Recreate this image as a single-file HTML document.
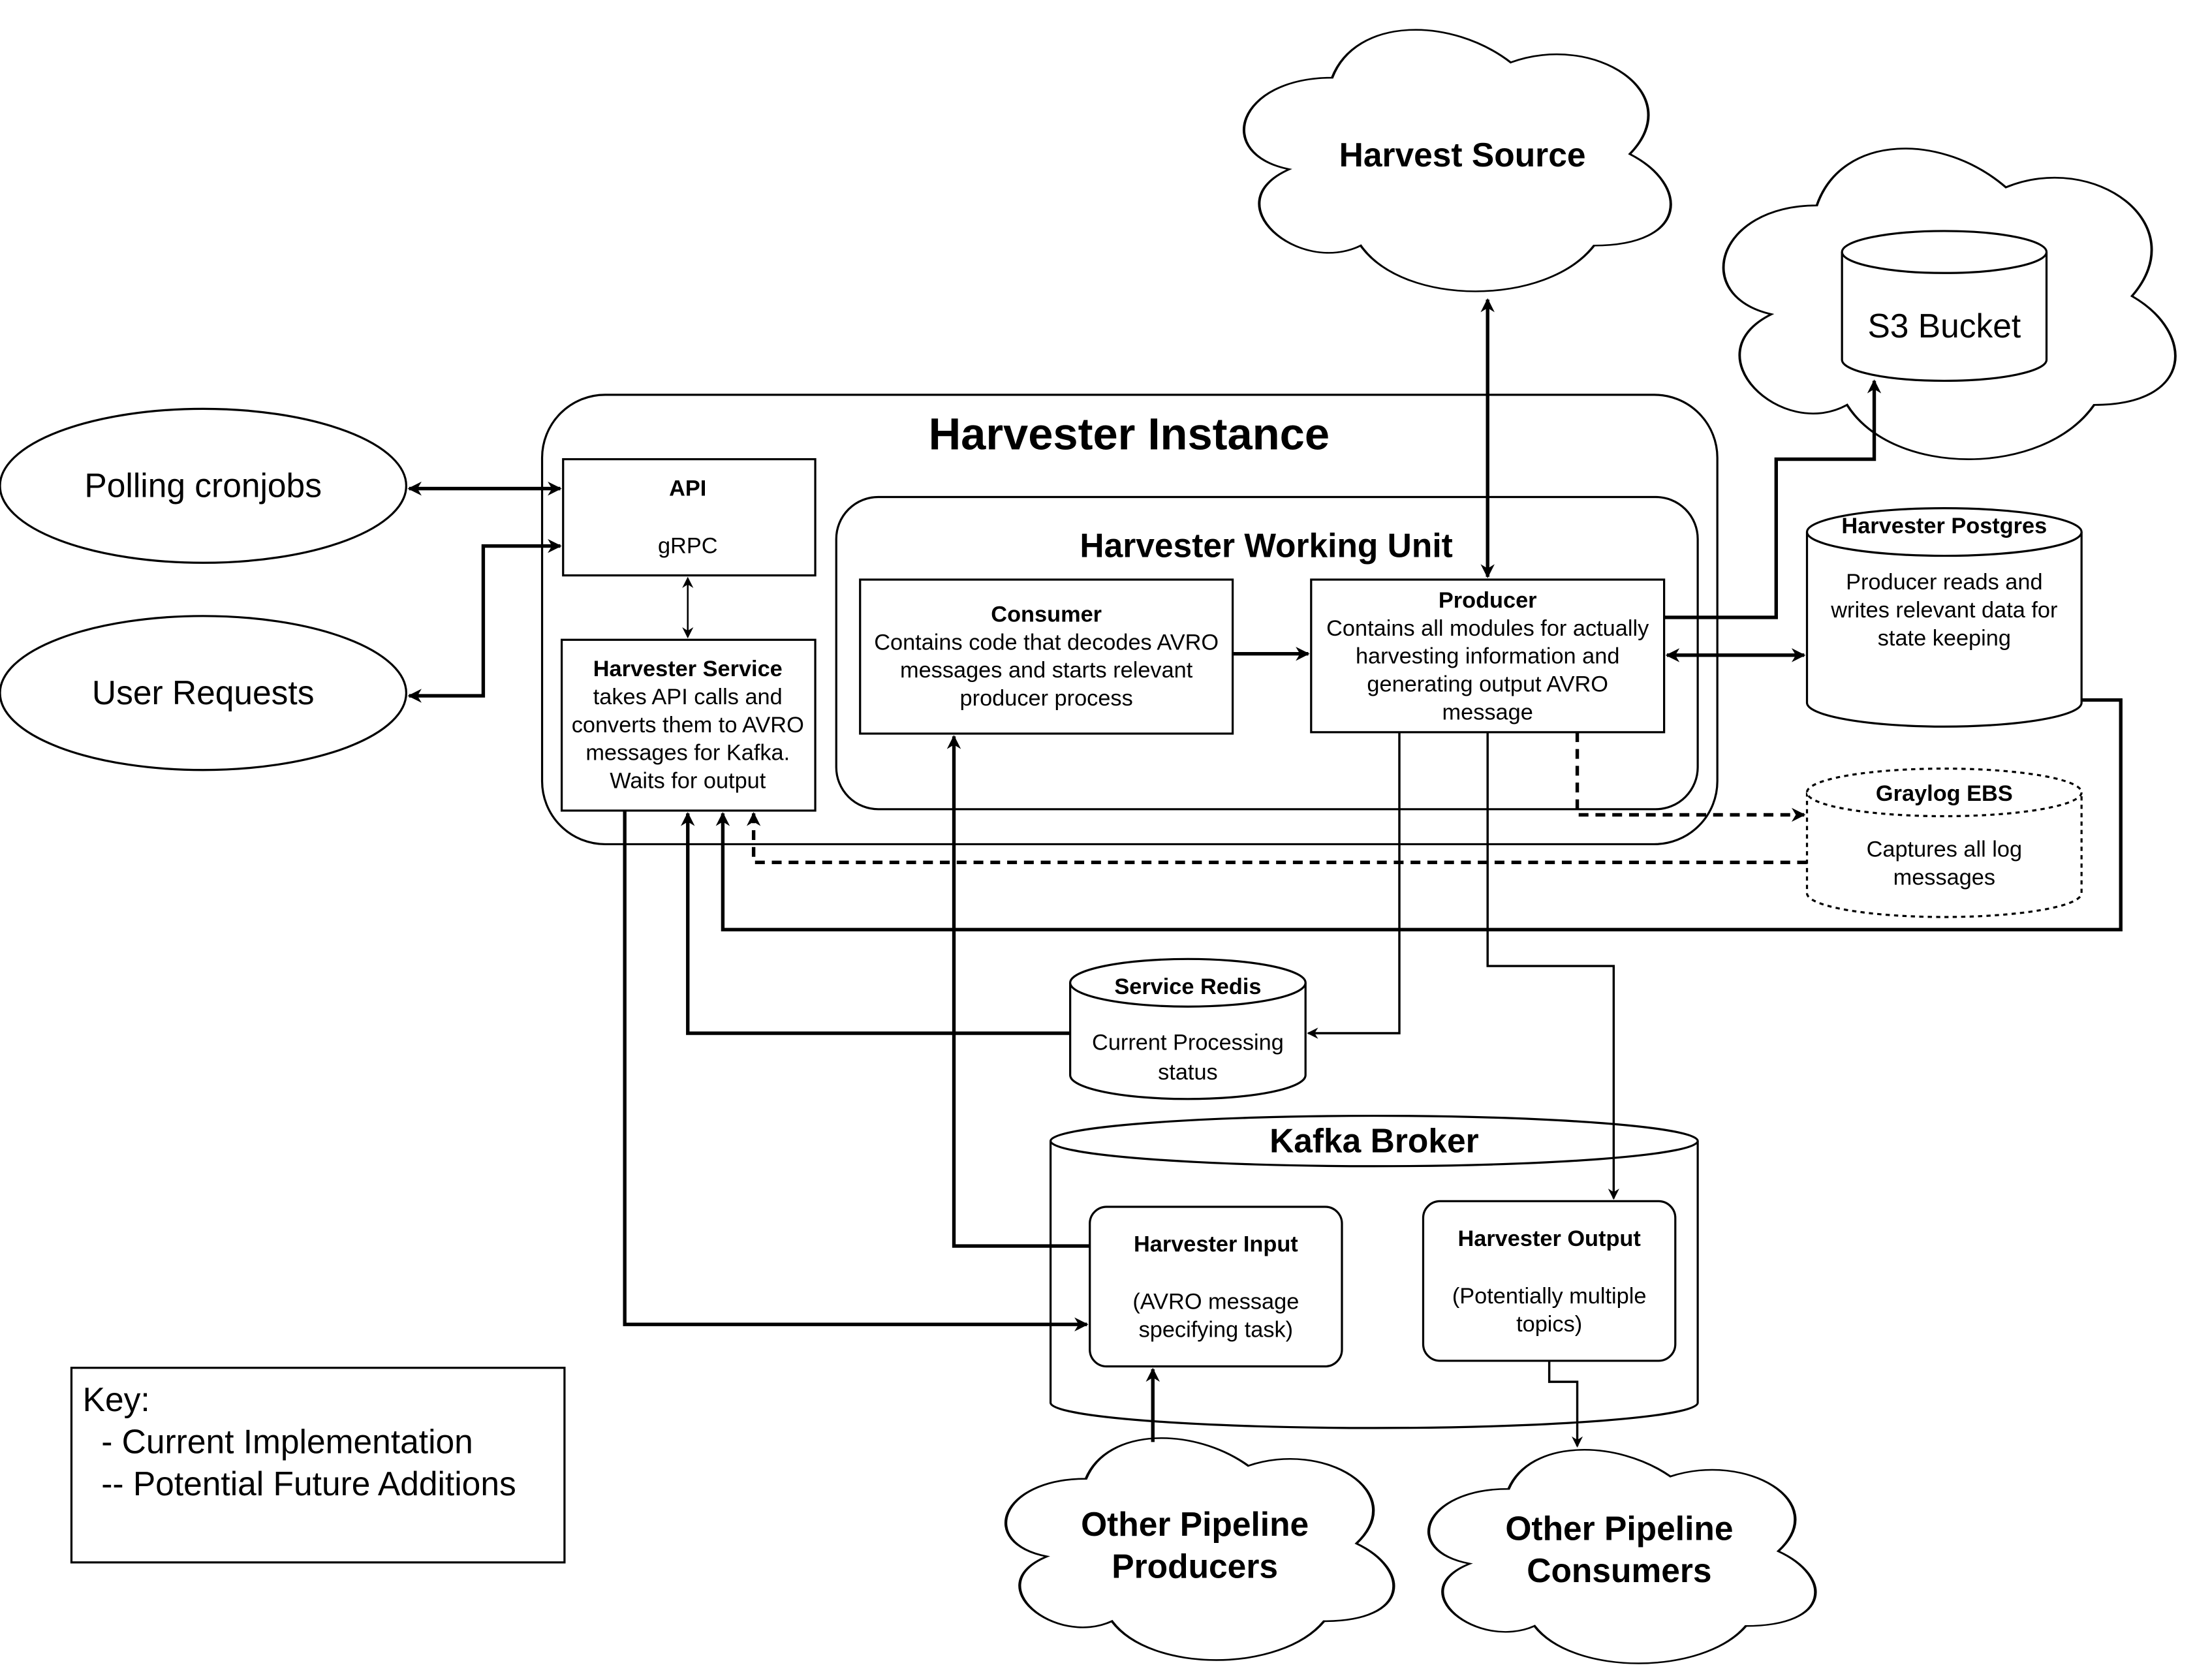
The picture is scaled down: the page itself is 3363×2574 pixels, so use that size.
<!DOCTYPE html>
<html><head><meta charset="utf-8"><style>
html,body{margin:0;padding:0;background:#fff;}
svg{display:block;}
text{font-family:"Liberation Sans",Arial,sans-serif;fill:#000;}
</style></head><body>
<svg width="3363" height="2574" viewBox="0 0 1567 1200" preserveAspectRatio="none" xmlns="http://www.w3.org/2000/svg">
<defs>
<path id="cl" d="M0.25,0.25 C0.05,0.25 0,0.5 0.16,0.55 C0,0.66 0.18,0.9 0.31,0.8 C0.4,1 0.7,1 0.8,0.8 C1,0.8 1,0.6 0.875,0.5 C1,0.3 0.8,0.1 0.625,0.2 C0.5,0.05 0.3,0.05 0.25,0.25 Z"/>
<marker id="a" markerWidth="10" markerHeight="10" refX="9" refY="5" orient="auto-start-reverse" markerUnits="userSpaceOnUse" viewBox="0 0 10 10"><path d="M0,0 L10,5 L0,10 L3,5 Z" fill="#000"/></marker>
<marker id="as" markerWidth="8" markerHeight="8" refX="7" refY="4" orient="auto-start-reverse" markerUnits="userSpaceOnUse" viewBox="0 0 8 8"><path d="M0,0 L8,4 L0,8 L2.5,4 Z" fill="#000"/></marker>
</defs>
<rect width="1567" height="1200" fill="#fff"/>
<g fill="#fff" stroke="#000">
<use href="#cl" transform="translate(866,1) scale(340,218)" style="stroke-width:0.0055"/>
<use href="#cl" transform="translate(1207,82) scale(360,259)" style="stroke-width:0.005"/>
<use href="#cl" transform="translate(698,1010) scale(309,185)" style="stroke-width:0.0065"/>
<use href="#cl" transform="translate(1000,1019) scale(308,178)" style="stroke-width:0.0065"/>
</g>
<g fill="none" stroke="#000" stroke-width="1.5">
<path d="M1315,180 L1315,257 A73,15 0 0 0 1461,257 L1461,180" fill="#fff"/>
<ellipse cx="1388" cy="180" rx="73" ry="15" fill="#fff"/>
<rect x="387" y="282" width="839" height="321" rx="45" fill="#fff"/>
<rect x="402" y="328" width="180" height="83" fill="#fff"/>
<rect x="401" y="457" width="181" height="122" fill="#fff"/>
<rect x="597" y="355" width="615" height="223" rx="30" fill="#fff"/>
<rect x="614" y="414" width="266" height="110" fill="#fff"/>
<rect x="936" y="414" width="252" height="109" fill="#fff"/>
<ellipse cx="145" cy="347" rx="145" ry="55" fill="#fff"/>
<ellipse cx="145" cy="495" rx="145" ry="55" fill="#fff"/>
<path d="M1290,380 L1290,502 A98,17 0 0 0 1486,502 L1486,380" fill="#fff"/>
<ellipse cx="1388" cy="380" rx="98" ry="17" fill="#fff"/>
<g stroke-dasharray="3,3">
<path d="M1290,566 L1290,638 A98,17 0 0 0 1486,638 L1486,566" fill="#fff"/>
<ellipse cx="1388" cy="566" rx="98" ry="17" fill="#fff"/>
</g>
<path d="M764,702 L764,768 A84,17 0 0 0 932,768 L932,702" fill="#fff"/>
<ellipse cx="848" cy="702" rx="84" ry="17" fill="#fff"/>
<path d="M750,815 L750,1002 A231,18 0 0 0 1212,1002 L1212,815" fill="#fff"/>
<ellipse cx="981" cy="815" rx="231" ry="18" fill="#fff"/>
<rect x="778" y="862" width="180" height="114" rx="12" fill="#fff"/>
<rect x="1016" y="858" width="180" height="114" rx="12" fill="#fff"/>
<rect x="51" y="977" width="352" height="139" fill="#fff"/>
</g>
<g fill="none" stroke="#000" stroke-width="2.5">
<path d="M292,349 L400,349" marker-start="url(#a)" marker-end="url(#a)"/>
<path d="M292,497 L345,497 L345,390 L400,390" marker-start="url(#a)" marker-end="url(#a)"/>
<path d="M880,467 L934,467" marker-end="url(#a)"/>
<path d="M1062,412 L1062,214" marker-start="url(#a)" marker-end="url(#a)"/>
<path d="M1188,441 L1268,441 L1268,328 L1338,328 L1338,272" marker-end="url(#a)"/>
<path d="M1190,468 L1288,468" marker-start="url(#a)" marker-end="url(#a)"/>
<path d="M1486,500 L1514,500 L1514,664 L516,664 L516,581" marker-end="url(#a)"/>
<path d="M764,738 L491,738 L491,581" marker-end="url(#a)"/>
<path d="M778,890 L681,890 L681,526" marker-end="url(#a)"/>
<path d="M446,579 L446,946 L776,946" marker-end="url(#a)"/>
<path d="M823,1030 L823,978" marker-end="url(#a)"/>
<g stroke-dasharray="7,5">
<path d="M1126,523 L1126,582 L1288,582" marker-end="url(#a)"/>
<path d="M1290,616 L538,616 L538,581" marker-end="url(#a)"/>
</g>
</g>
<g fill="none" stroke="#000" stroke-width="1.6">
<path d="M999,523 L999,738 L934,738" marker-end="url(#as)"/>
<path d="M1062,523 L1062,690 L1152,690 L1152,856" marker-end="url(#as)"/>
<path d="M1106,972 L1106,987 L1126,987 L1126,1033" marker-end="url(#as)"/>
<path d="M491,413 L491,455" marker-start="url(#as)" marker-end="url(#as)" stroke-width="1.2"/>
</g>
<g text-anchor="middle">
<text x="1044" y="119" font-size="24" font-weight="bold">Harvest Source</text>
<text x="1388" y="241" font-size="24">S3 Bucket</text>
<text x="806" y="321" font-size="32" font-weight="bold">Harvester Instance</text>
<text x="904" y="398" font-size="24" font-weight="bold">Harvester Working Unit</text>
<text x="145" y="355" font-size="24">Polling cronjobs</text>
<text x="145" y="503" font-size="24">User Requests</text>
<g font-size="16">
<text x="491" y="354" font-weight="bold">API</text>
<text x="491" y="395">gRPC</text>
<text x="491" y="483" font-weight="bold">Harvester Service</text>
<text x="491" y="503">takes API calls and</text>
<text x="491" y="523">converts them to AVRO</text>
<text x="491" y="543">messages for Kafka.</text>
<text x="491" y="563">Waits for output</text>
<text x="747" y="444" font-weight="bold">Consumer</text>
<text x="747" y="464">Contains code that decodes AVRO</text>
<text x="747" y="484">messages and starts relevant</text>
<text x="747" y="504">producer process</text>
<text x="1062" y="434" font-weight="bold">Producer</text>
<text x="1062" y="454">Contains all modules for actually</text>
<text x="1062" y="474">harvesting information and</text>
<text x="1062" y="494">generating output AVRO</text>
<text x="1062" y="514">message</text>
<text x="1388" y="381" font-weight="bold">Harvester Postgres</text>
<text x="1388" y="421">Producer reads and</text>
<text x="1388" y="441">writes relevant data for</text>
<text x="1388" y="461">state keeping</text>
<text x="1388" y="572" font-weight="bold">Graylog EBS</text>
<text x="1388" y="612">Captures all log</text>
<text x="1388" y="632">messages</text>
<text x="848" y="710" font-weight="bold">Service Redis</text>
<text x="848" y="750">Current Processing</text>
<text x="848" y="771">status</text>
<text x="868" y="894" font-weight="bold">Harvester Input</text>
<text x="868" y="935">(AVRO message</text>
<text x="868" y="955">specifying task)</text>
<text x="1106" y="890" font-weight="bold">Harvester Output</text>
<text x="1106" y="931">(Potentially multiple</text>
<text x="1106" y="951">topics)</text>
</g>
<text x="981" y="823" font-size="24" font-weight="bold">Kafka Broker</text>
<text x="853" y="1097" font-size="24" font-weight="bold">Other Pipeline</text>
<text x="853" y="1127" font-size="24" font-weight="bold">Producers</text>
<text x="1156" y="1100" font-size="24" font-weight="bold">Other Pipeline</text>
<text x="1156" y="1130" font-size="24" font-weight="bold">Consumers</text>
</g>
<g font-size="24">
<text x="59" y="1008">Key:</text>
<text x="59" y="1038" xml:space="preserve">  - Current Implementation</text>
<text x="59" y="1068" xml:space="preserve">  -- Potential Future Additions</text>
</g>
</svg>
</body></html>
